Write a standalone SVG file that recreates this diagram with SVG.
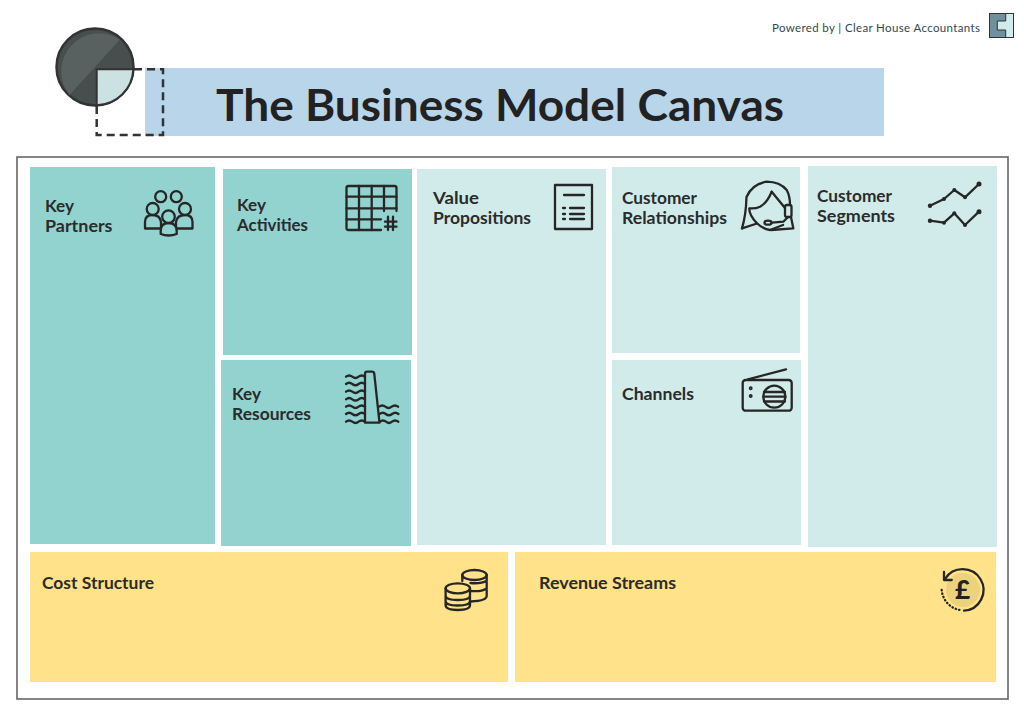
<svg xmlns="http://www.w3.org/2000/svg" width="1024" height="710" viewBox="0 0 1024 710">
<style>
text{font-family:"Lato","Noto Sans","Liberation Sans",sans-serif}
.lb{font-size:17.5px;font-weight:700;fill:#2b2b2b}
.ic{fill:none;stroke:#262626;stroke-width:2.300;stroke-linecap:round;stroke-linejoin:round}
.dk{fill:#92d3cf}.lt{fill:#d0ebe9}.yl{fill:#ffe28a}
.title{fill:#222}.pw{fill:#33474f}
</style>
<rect width="1024" height="710" fill="#fff"/>
<rect x="17" y="157" width="991" height="542" fill="none" stroke="#666" stroke-width="1.600"/>
<g id="header">
<rect x="145" y="68" width="739" height="68" fill="#b9d5e9"/>
<text class="title" x="216" y="121" font-size="44" font-weight="700" textLength="568" lengthAdjust="spacingAndGlyphs">The Business Model Canvas</text>
</g>
<g id="logo">
<circle cx="95" cy="67" r="38.500" fill="#474e4e" stroke="#333" stroke-width="2.500"/>
<path d="M69.500 95A38 38 0 0 1 120 39.500Z" fill="#596060"/>
<path d="M96.700 69.300H133.300A37.500 37.500 0 0 1 96.700 105.300Z" fill="#cbe1e2" stroke="#333" stroke-width="2"/>
<path d="M134 69.300H163V135H96.700V106" fill="none" stroke="#333" stroke-width="2.500" stroke-dasharray="8 5"/>
</g>
<g id="powered">
<text class="pw" x="772" y="32" font-size="11.500" textLength="208">Powered by | Clear House Accountants</text>
<rect x="989.500" y="13.500" width="24" height="24" fill="#6f909c" stroke="#333" stroke-width="1"/>
<path d="M1005.700 13.500H1013.500V37.500H1005.700V30H997.300V21H1005.700Z" fill="#d0ebe9" stroke="#333" stroke-width="1"/>
</g>
<g id="key-partners">
<rect class="dk" x="30" y="167" width="185" height="377"/>
<text class="lb" x="45" y="212" textLength="29" lengthAdjust="spacingAndGlyphs">Key</text><text class="lb" x="45" y="232" textLength="67.500" lengthAdjust="spacingAndGlyphs">Partners</text>
<g class="ic">
<circle cx="160.700" cy="196.700" r="5.500"/><circle cx="176.300" cy="196.700" r="5.500"/>
<g fill="#92d3cf">
<path d="M145 228.500V222Q145 215 152.700 215Q160 215 161 222V228.500Z"/>
<path d="M192.500 228.500V222Q192.500 215 185 215Q177 215 176 222V228.500Z"/>
<circle cx="152.700" cy="209" r="6"/><circle cx="185" cy="209" r="6"/>
<path d="M160.700 234V231Q160.700 223 168.500 223Q176.700 223 176.700 231V234Q168.500 237 160.700 234Z"/>
<circle cx="168.500" cy="216.700" r="6.300"/>
</g>
</g>
</g>
<g id="key-activities">
<rect class="dk" x="223" y="169" width="189" height="186"/>
<text class="lb" x="237" y="211" textLength="29" lengthAdjust="spacingAndGlyphs">Key</text><text class="lb" x="237" y="231" textLength="71" lengthAdjust="spacingAndGlyphs">Activities</text>
<g class="ic">
<path d="M381 230H348.500Q346.500 230 346.500 228V188Q346.500 186 348.500 186H394.500Q396.500 186 396.500 188V211"/>
<path d="M346.500 196.700H396.500M346.500 208.300H396.500M346.500 219.300H381M359 186V230M371.700 186V230M384 186V211"/>
<path d="M385 221.700H396.500M385 226.700H396.500M388 216.700V230M393 216.700V230"/>
</g>
</g>
<g id="key-resources">
<rect class="dk" x="221" y="360" width="190" height="186"/>
<text class="lb" x="232" y="400" textLength="29" lengthAdjust="spacingAndGlyphs">Key</text><text class="lb" x="232" y="420" textLength="79" lengthAdjust="spacingAndGlyphs">Resources</text>
<g class="ic">
<path d="M365 422.700V374Q365 371.700 367 371.700H372Q374 371.700 374.300 374L379.500 422.700Z"/>
<path d="M346 376.700q3-2.500 6.300 0t6.300 0t6.400 0M346 384q3-2.500 6.300 0t6.300 0t6.400 0M346 391.700q3-2.500 6.300 0t6.300 0t6.400 0M346 399.300q3-2.500 6.300 0t6.300 0t6.400 0M346 406.700q3-2.500 6.300 0t6.300 0t6.400 0M346 414q3-2.500 6.300 0t6.300 0t6.400 0M346 421.700q3-2.500 6.300 0t6.300 0t6.400 0"/>
<path d="M379 406.700q3.300-2.500 6.400 0t6.300 0t6.400 0M379.500 414q3.300-2.500 6.300 0t6.300 0t6.400 0M380 421.700q3-2.500 6 0t6 0t6.300 0"/>
</g>
</g>
<g id="value-propositions">
<rect class="lt" x="417" y="169" width="189" height="376"/>
<text class="lb" x="433" y="204" textLength="46" lengthAdjust="spacingAndGlyphs">Value</text><text class="lb" x="433" y="224" textLength="98" lengthAdjust="spacingAndGlyphs">Propositions</text>
<g class="ic">
<rect x="555" y="185" width="37" height="44"/>
<path d="M564 195H584M570 208H584M570 214H584M570 219H584M563 208H565M563 214H565M563 219H565"/>
</g>
</g>
<g id="customer-relationships">
<rect class="lt" x="612" y="167" width="188" height="186"/>
<text class="lb" x="622" y="204" textLength="75" lengthAdjust="spacingAndGlyphs">Customer</text><text class="lb" x="622" y="224" textLength="105" lengthAdjust="spacingAndGlyphs">Relationships</text>
<g class="ic">
<path d="M742 228.300Q746 215 746.500 197Q752 184 766.700 181.700Q780 182 786.700 190Q790 196 790 205M791 217L793.300 228.300L771 230"/>
<path d="M742 228.300L757 223.500"/>
<path d="M771.700 191.700Q767 203 760 206.700Q755 209 749.300 208.300Q749 215 756.700 223Q763 229 770 230L783 225"/>
<path d="M771.700 191.700L785 208"/>
<rect x="785" y="205" width="6.500" height="12" rx="2"/>
<path d="M788 217L783.300 221.700L772 222.700"/><ellipse cx="768" cy="222.700" rx="3.500" ry="2"/>
</g>
</g>
<g id="channels">
<rect class="lt" x="612" y="360" width="189" height="185"/>
<text class="lb" x="622" y="400" textLength="72" lengthAdjust="spacingAndGlyphs">Channels</text>
<g class="ic">
<rect x="742.700" y="380" width="49" height="30.700" rx="3"/>
<path d="M748 379.300L786 369.300" />
<circle cx="750.700" cy="388.300" r="0.800"/><circle cx="750.700" cy="396" r="0.800"/>
<circle cx="774.300" cy="396.700" r="11"/><path d="M764 392H785M763.500 396.700H785.500M764 401.500H785"/>
</g>
</g>
<g id="customer-segments">
<rect class="lt" x="808" y="166" width="189" height="381"/>
<text class="lb" x="817" y="202" textLength="75" lengthAdjust="spacingAndGlyphs">Customer</text><text class="lb" x="817" y="222" textLength="78" lengthAdjust="spacingAndGlyphs">Segments</text>
<g class="ic">
<path d="M930 205.700L944 199L954.300 190L965 197.300L979 184"/>
<path d="M930 220.700L944 222.700L954.300 213.300L965 225L979 211.700"/>
</g>
<g fill="#262626"><circle cx="930" cy="205.700" r="2.200"/><circle cx="944" cy="199" r="2"/><circle cx="954.300" cy="190" r="2"/><circle cx="965" cy="197.300" r="2"/><circle cx="979" cy="184" r="2.500"/><circle cx="930" cy="220.700" r="2.200"/><circle cx="944" cy="222.700" r="2"/><circle cx="954.300" cy="213.300" r="2"/><circle cx="965" cy="225" r="2"/><circle cx="979" cy="211.700" r="2.500"/></g>
</g>
<g id="cost-structure">
<rect class="yl" x="30" y="552" width="478" height="130"/>
<text class="lb" x="42" y="589" textLength="112" lengthAdjust="spacingAndGlyphs">Cost Structure</text>
<g class="ic">
<ellipse cx="474.500" cy="575" rx="12.200" ry="5"/>
<path d="M462.300 575V581M486.700 575V596Q486.700 600.700 471 601.500M470.500 583Q481 584 486.700 580.700M471 591Q481 592 486.700 588.500"/>
<ellipse cx="457.800" cy="588.300" rx="12.200" ry="5" fill="#ffe28a"/>
<path d="M445.600 588.300V605Q445.600 610 457.800 610Q470 610 470 605V588.300M445.600 595.500Q445.600 600 457.800 600Q470 600 470 595.500M445.600 601Q445.600 605.500 457.800 605.500Q470 605.500 470 601"/>
</g>
</g>
<g id="revenue-streams">
<rect class="yl" x="515" y="552" width="481" height="130"/>
<text class="lb" x="539" y="589" textLength="137" lengthAdjust="spacingAndGlyphs">Revenue Streams</text>
<circle cx="963" cy="590" r="17" fill="#edd27c"/>
<path class="ic" d="M945 579A20.800 20.800 0 1 1 964 610.700"/>
<path class="ic" d="M944 572V580H951.700"/>
<path class="ic" d="M941.700 590A22 22 0 0 0 960 610" stroke-dasharray="0.500 3"/>
<text class="title" x="962.500" y="599" font-size="26" font-weight="900" text-anchor="middle">£</text>
</g>
</svg>
